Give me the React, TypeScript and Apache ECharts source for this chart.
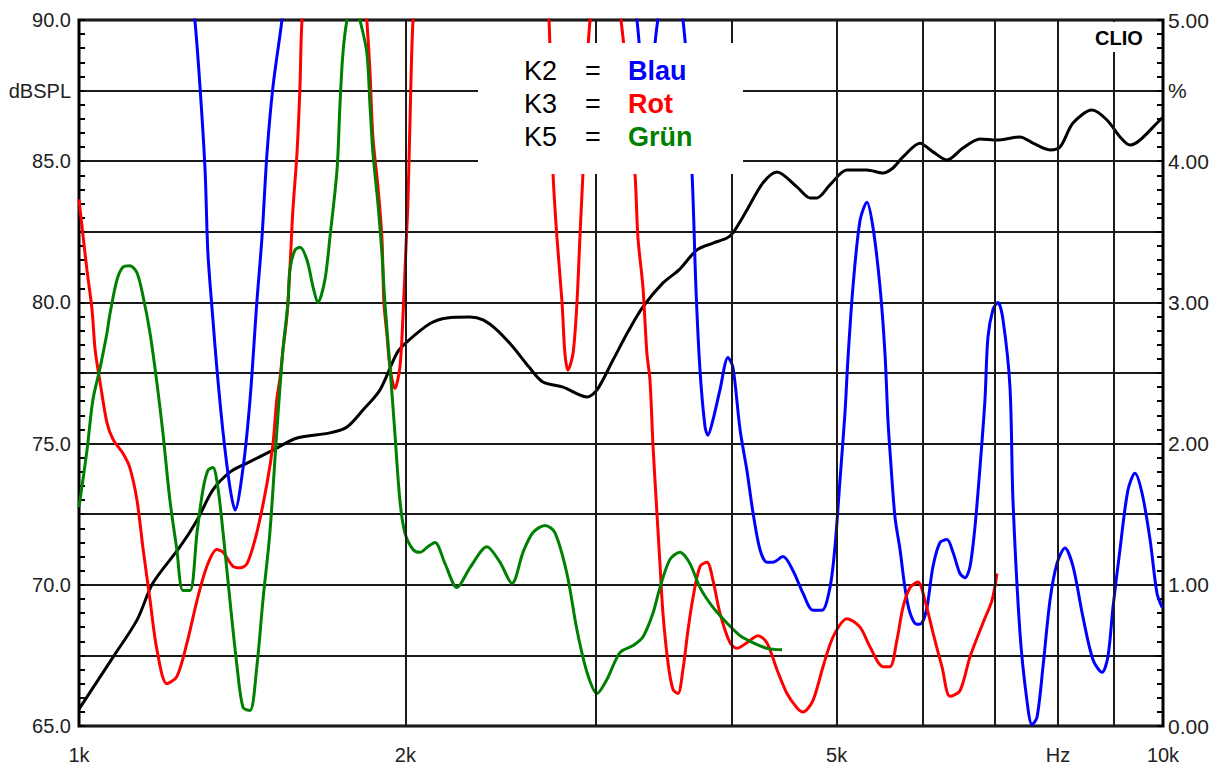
import React, { useEffect, useRef } from 'react';
import * as echarts from 'echarts';

const FONT = '"Liberation Sans", Arial, sans-serif';

// x-axis labels (Hz) and vertical grid frequencies
const xLabelValues = [1000, 2000, 5000, 8000, 10000];
const xLabelTexts = ['1k', '2k', '5k', 'Hz', '10k'];
const gridFreqs = [2000, 3000, 4000, 5000, 6000, 7000, 8000, 9000];

// Frequency response (dB SPL, left axis)
const splFreq = [1000,1075,1131,1170,1239,1285,1329,1378,1429,1510,1589,1704,1767,1828,1895,1965,2007,2108,2185,2294,2359,2430,2514,2601,2679,2796,2942,3005,3109,3216,3313,3457,3577,3716,3845,3960,4011,4132,4275,4404,4595,4724,4795,4929,5110,5332,5517,5635,5756,5968,6135,6320,6539,6779,7028,7380,7587,7866,8035,8260,8600,8878,9127,9323,9524,9937,10000];
const splValues = [65.6,67.44,68.75,70.06,71.34,72.29,73.36,73.99,74.31,74.77,75.2,75.38,75.59,76.19,76.9,78.21,78.6,79.25,79.45,79.48,79.38,79.02,78.42,77.71,77.18,77.0,76.65,76.9,77.96,79.02,79.84,80.69,81.15,81.86,82.1,82.28,82.46,83.27,84.23,84.62,84.09,83.7,83.7,84.16,84.69,84.69,84.58,84.76,85.15,85.64,85.33,85.04,85.47,85.79,85.75,85.86,85.64,85.4,85.5,86.35,86.81,86.46,85.86,85.57,85.75,86.46,86.55];

// K2 distortion (%, right axis) - blue
const k2Freq = [1266,1279,1293,1307,1315,1329,1340,1358,1378,1393,1417,1438,1459,1475,1491,1510,1539,1559,2199,3223,3271,3299,3341,3385,3420,3494,3607,3677,3708,3740,3780,3803,3845,3902,3969,4011,4072,4132,4186,4248,4311,4367,4461,4557,4655,4754,4846,4929,4982,5035,5089,5121,5176,5254,5332,5401,5482,5540,5575,5599,5659,5720,5780,5843,5929,5993,6057,6135,6227,6320,6401,6497,6566,6637,6707,6779,6851,6894,6969,7042,7118,7225,7271,7380,7490,7571,7651,7750,7866,7983,8120,8260,8437,8618,8785,8896,8992,9127,9282,9422,9564,9729,9873,9980];
const k2Values = [5.25,5.0,4.53,3.94,3.35,2.88,2.54,2.08,1.69,1.53,1.83,2.31,3.0,3.46,4.06,4.53,5.0,5.4,6.5,5.3,5.0,4.7,4.4,4.7,5.0,5.3,5.0,3.92,3.1,2.52,2.12,2.06,2.17,2.38,2.61,2.54,2.10,1.81,1.51,1.25,1.16,1.16,1.20,1.10,0.94,0.82,0.82,0.98,1.27,1.74,2.22,2.6,3.11,3.58,3.71,3.53,3.11,2.64,2.17,1.95,1.48,1.25,0.98,0.80,0.72,0.73,0.84,1.13,1.30,1.32,1.23,1.08,1.05,1.13,1.41,1.83,2.31,2.75,2.95,3.0,2.88,2.40,1.60,0.66,0.18,0.01,0.06,0.42,0.89,1.15,1.26,1.13,0.77,0.47,0.38,0.49,0.84,1.25,1.67,1.79,1.65,1.32,0.94,0.84];

// K3 distortion (%, right axis) - red
const k3Freq = [1000,1009,1017,1028,1035,1046,1061,1075,1098,1114,1131,1146,1163,1180,1205,1231,1258,1285,1312,1340,1358,1387,1408,1429,1459,1491,1510,1522,1533,1542,1555,1565,1575,1589,1599,1606,1633,1741,1824,1843,1855,1867,1887,1903,1911,1923,1936,1956,1977,1990,2003,2011,2020,2033,2063,2344,2691,2714,2737,2760,2790,2807,2825,2856,2880,2898,2917,2961,3056,3162,3257,3278,3313,3341,3363,3385,3413,3435,3457,3494,3531,3569,3607,3646,3685,3740,3796,3845,3902,3986,4045,4132,4230,4311,4404,4499,4595,4655,4754,4857,4961,5110,5254,5367,5517,5599,5683,5756,5843,5942,6031,6135,6253,6361,6497,6637,6822,6954,7028];
const k3Values = [3.73,3.46,3.23,2.95,2.66,2.43,2.15,2.03,1.93,1.83,1.60,1.25,0.89,0.54,0.30,0.35,0.59,0.89,1.13,1.25,1.23,1.13,1.12,1.15,1.37,1.72,2.0,2.31,2.47,2.66,2.90,3.23,3.65,4.06,4.53,5.0,5.6,6.0,5.5,5.0,4.65,4.17,3.82,3.46,3.0,2.78,2.54,2.39,2.54,2.9,3.4,3.70,4.29,5.0,5.6,6.5,5.3,5.0,3.92,3.46,3.0,2.64,2.52,2.64,3.0,3.46,3.92,5.0,5.6,5.0,3.92,3.46,3.11,2.64,2.45,1.98,1.51,1.15,0.80,0.45,0.26,0.23,0.40,0.68,0.91,1.13,1.16,1.03,0.80,0.59,0.55,0.59,0.64,0.59,0.40,0.23,0.13,0.10,0.18,0.42,0.63,0.76,0.70,0.56,0.42,0.42,0.61,0.84,0.98,1.02,0.89,0.66,0.42,0.21,0.25,0.49,0.73,0.89,1.08];

// K5 distortion (%, right axis) - green
const k5Freq = [1000,1017,1030,1046,1061,1068,1084,1098,1114,1131,1146,1163,1180,1195,1213,1231,1247,1266,1285,1301,1315,1329,1343,1358,1378,1399,1417,1438,1459,1478,1500,1522,1542,1559,1565,1582,1599,1623,1644,1661,1686,1704,1730,1741,1752,1767,1790,1816,1843,1855,1867,1887,1903,1915,1936,1956,1977,1998,2033,2063,2098,2130,2176,2232,2294,2379,2445,2509,2568,2623,2691,2748,2819,2880,2942,3005,3069,3155,3244,3313,3385,3435,3509,3584,3661,3740,3845,3960,4072,4186,4311,4452];
const k5Values = [1.55,1.95,2.31,2.54,2.78,2.92,3.16,3.25,3.26,3.21,3.04,2.78,2.43,2.08,1.60,1.25,0.96,0.96,1.37,1.67,1.81,1.83,1.69,1.37,0.89,0.42,0.13,0.11,0.42,0.89,1.37,2.08,2.66,3.0,3.23,3.37,3.39,3.30,3.11,3.0,3.16,3.46,3.94,4.41,4.77,5.0,5.15,5.0,4.77,4.41,4.06,3.70,3.35,3.0,2.54,2.08,1.60,1.37,1.25,1.23,1.27,1.30,1.15,0.98,1.12,1.27,1.16,1.01,1.23,1.37,1.42,1.37,1.08,0.68,0.38,0.23,0.33,0.52,0.57,0.63,0.80,0.98,1.18,1.23,1.15,0.98,0.84,0.73,0.64,0.59,0.55,0.54];

const legendRows = [
  { key: 'K2', name: 'Blau', color: '#0000ff' },
  { key: 'K3', name: 'Rot', color: '#ff0000' },
  { key: 'K5', name: 'Grün', color: '#008000' },
];

const zip = (xs: number[], ys: number[]) => xs.map((x, i) => [x, ys[i]]);

export default function App() {
  const ref = useRef<HTMLDivElement>(null);
  useEffect(() => {
    const chart = echarts.init(ref.current!, null, { renderer: 'svg' });
    const lineBase = {
      type: 'line',
      showSymbol: false,
      smooth: 0.3,
      clip: true,
      silent: true,
    };
    const legendGraphics: any[] = [
      { type: 'rect', shape: { x: 478, y: 43, width: 265, height: 131 }, style: { fill: '#fff' }, z: 100 },
    ];
    legendRows.forEach((r, i) => {
      const y = 71 + i * 33;
      legendGraphics.push(
        { type: 'text', x: 524, y, z: 101, style: { text: r.key, fill: '#000', fontSize: 27, fontFamily: FONT, verticalAlign: 'middle' } },
        { type: 'text', x: 585, y, z: 101, style: { text: '=', fill: '#000', fontSize: 27, fontFamily: FONT, verticalAlign: 'middle' } },
        { type: 'text', x: 628, y, z: 101, style: { text: r.name, fill: r.color, fontSize: 27, fontWeight: 'bold', fontFamily: FONT, verticalAlign: 'middle' } },
      );
    });
    legendGraphics.push(
      { type: 'rect', shape: { x: 1088, y: 22, width: 62, height: 30 }, style: { fill: '#fff' }, z: 100 },
      { type: 'text', x: 1119, y: 38, z: 101, style: { text: 'CLIO', fill: '#000', fontSize: 20, fontWeight: 'bold', fontFamily: FONT, align: 'center', verticalAlign: 'middle' } },
    );

    chart.setOption({
      animation: false,
      backgroundColor: '#fff',
      grid: { left: 79, right: 60, top: 20, bottom: 43, show: true, borderColor: '#000', borderWidth: 3, backgroundColor: 'transparent' },
      xAxis: {
        type: 'log',
        logBase: 10,
        min: 1000,
        max: 10000,
        axisLine: { show: false },
        axisTick: { show: false },
        splitLine: { show: false },
        minorSplitLine: { show: false },
        axisLabel: {
          customValues: xLabelValues,
          formatter: (v: number) => {
            const i = xLabelValues.indexOf(Math.round(v));
            return i >= 0 ? xLabelTexts[i] : '';
          },
          fontSize: 20,
          color: '#222',
          fontFamily: FONT,
          margin: 19,
        },
      },
      yAxis: [
        {
          type: 'value',
          min: 65,
          max: 90,
          interval: 2.5,
          position: 'left',
          axisLine: { show: false },
          axisTick: { show: true, inside: true, length: 6, lineStyle: { color: '#000', width: 2 } },
          minorTick: { show: true, splitNumber: 5, length: 6, lineStyle: { color: '#000', width: 2 } },
          splitLine: { show: true, lineStyle: { color: '#1a1a1a', width: 2 } },
          axisLabel: {
            formatter: (v: number) => (Math.abs(v - 87.5) < 1e-6 ? 'dBSPL' : Math.abs(v % 5) < 1e-6 ? v.toFixed(1) : ''),
            fontSize: 20,
            color: '#222',
            fontFamily: FONT,
            margin: 8,
          },
        },
        {
          type: 'value',
          min: 0,
          max: 5,
          interval: 0.5,
          position: 'right',
          axisLine: { show: false },
          axisTick: { show: true, inside: true, length: 6, lineStyle: { color: '#000', width: 2 } },
          minorTick: { show: true, splitNumber: 5, length: 6, lineStyle: { color: '#000', width: 2 } },
          splitLine: { show: false },
          axisLabel: {
            formatter: (v: number) => (Math.abs(v - 4.5) < 1e-6 ? '%' : Math.abs(v - Math.round(v)) < 1e-6 ? v.toFixed(2) : ''),
            fontSize: 21,
            color: '#222',
            fontFamily: FONT,
            margin: 5,
          },
        },
      ],
      series: [
        {
          ...lineBase,
          name: 'SPL',
          yAxisIndex: 0,
          data: zip(splFreq, splValues),
          lineStyle: { color: '#000', width: 3 },
          markLine: {
            silent: true,
            symbol: ['none', 'none'],
            label: { show: false },
            lineStyle: { color: '#1a1a1a', width: 2, type: 'solid' },
            data: gridFreqs.map((f) => ({ xAxis: f })),
          },
        },
        { ...lineBase, name: 'K2', yAxisIndex: 1, data: zip(k2Freq, k2Values), lineStyle: { color: '#0000ff', width: 3 } },
        { ...lineBase, name: 'K3', yAxisIndex: 1, data: zip(k3Freq, k3Values), lineStyle: { color: '#ff0000', width: 3 } },
        { ...lineBase, name: 'K5', yAxisIndex: 1, data: zip(k5Freq, k5Values), lineStyle: { color: '#008000', width: 3 } },
      ],
      graphic: legendGraphics,
    });
    return () => chart.dispose();
  }, []);
  return <div ref={ref} style={{ position: 'fixed', left: 0, top: 0, width: 1223, height: 769, background: '#fff' }} />;
}
